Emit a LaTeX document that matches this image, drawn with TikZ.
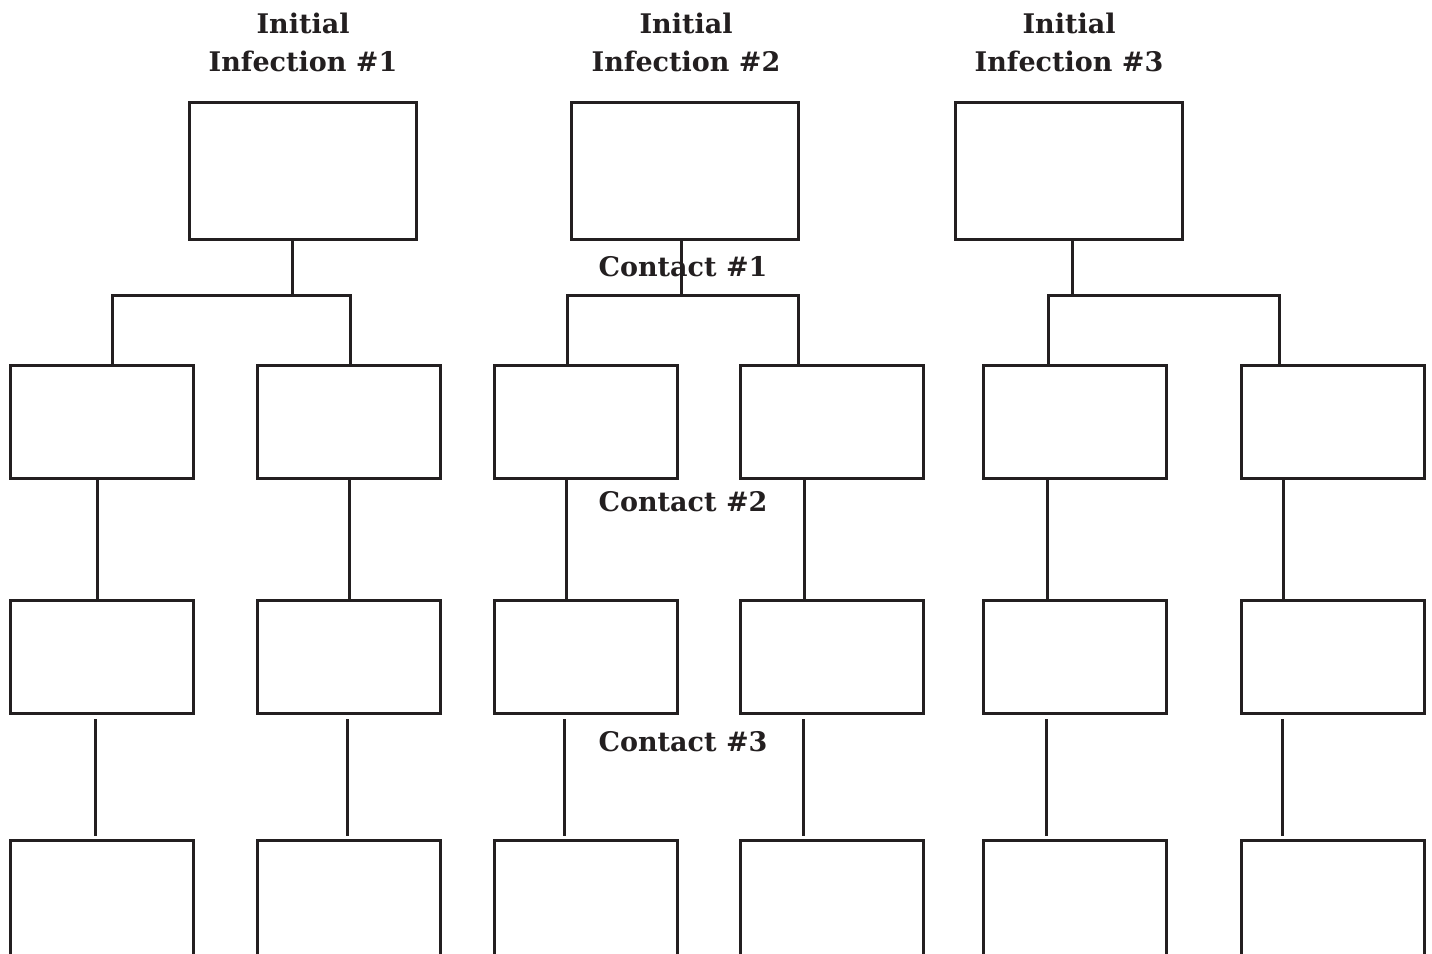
\documentclass[tikz,border=0pt]{standalone}
\usepackage{fontspec}
\setmainfont{DejaVu Serif}
\definecolor{ink}{HTML}{231F20}
\begin{document}
\begin{tikzpicture}[x=1pt,y=-1pt,
  box/.style={draw=ink,line width=3pt,minimum width=183pt,minimum height=113pt,inner sep=0pt},
  topbox/.style={box,minimum width=227pt,minimum height=137pt},
  lastbox/.style={box,minimum height=160pt},
  link/.style={draw=ink,line width=3pt},
  lab/.style={text=ink,font=\fontsize{27}{38}\selectfont\bfseries,align=center,inner sep=0pt}]
\clip (0,0) rectangle (1432,953);
\fill[white] (0,0) rectangle (1432,953);
% titles
\node[lab] (h1) at (303,42) {Initial\\Infection \#1};
\node[lab] (h2) at (686,42) {Initial\\Infection \#2};
\node[lab] (h3) at (1069,42) {Initial\\Infection \#3};
% top boxes
\node[topbox] (t1) at (302.5,170.5) {};
\node[topbox] (t2) at (684.5,170.5) {};
\node[topbox] (t3) at (1068.5,170.5) {};
% rows
\foreach \n/\x in {a1/101.5,b1/348.5,a2/585.5,b2/831.5,a3/1075,b3/1332.5}{
  \node[box] (\n r2) at (\x,421.5) {};
  \node[box] (\n r3) at (\x,657) {};
  \node[lastbox] (\n r4) at (\x,920) {};
}
% contact labels
\node[lab] (c1) at (683,267) {Contact \#1};
\node[lab] (c2) at (683,502) {Contact \#2};
\node[lab] (c3) at (683,742) {Contact \#3};
% junctions
\coordinate (j1) at (292,295);
\coordinate (j2) at (681,295);
\coordinate (j3) at (1072,295);
% tree 1
\draw[link] (t1.south -| j1) -- (j1);
\draw[link] (a1r2.north -| 112,0) |- (j1) -| (b1r2.north -| 350,0);
% tree 2
\draw[link] (t2.south -| j2) -- (j2);
\draw[link] (a2r2.north -| 567,0) |- (j2) -| (b2r2.north -| 798,0);
% tree 3
\draw[link] (t3.south -| j3) -- (j3);
\draw[link] (a3r2.north -| 1048,0) |- (j3) -| (b3r2.north -| 1279,0);
% row 2 to row 3
\foreach \n/\x in {a1/97,b1/349,a2/566,b2/804,a3/1047,b3/1283}{
  \draw[link] (\n r2.south -| \x,0) -- (\n r3.north -| \x,0);
}
% row 3 to row 4
\foreach \n/\x in {a1/95,b1/347,a2/564,b2/803,a3/1046,b3/1282}{
  \draw[link] ([yshift=-4pt]\n r3.south -| \x,0) -- ([yshift=3pt]\n r4.north -| \x,0);
}
\end{tikzpicture}
\end{document}
